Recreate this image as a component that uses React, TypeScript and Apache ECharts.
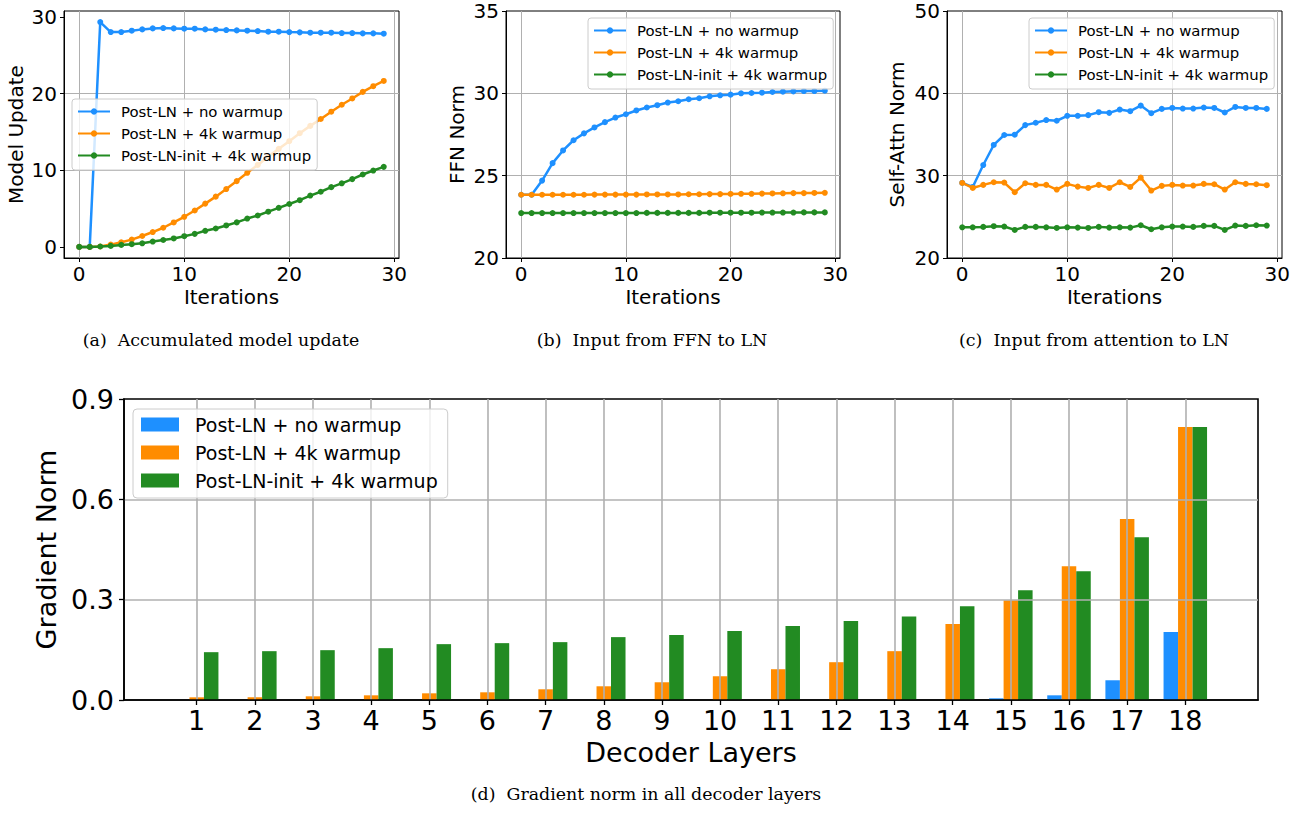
import React, { useEffect, useRef } from "react";
import * as echarts from "echarts";

// ---------- data ----------
const seriesNames = ["Post-LN + no warmup", "Post-LN + 4k warmup", "Post-LN-init + 4k warmup"];
const seriesColors = ["#1E90FF", "#FF8C00", "#228B22"];

const iterations = [0, 1, 2, 3, 4, 5, 6, 7, 8, 9, 10, 11, 12, 13, 14, 15, 16, 17, 18, 19, 20, 21, 22, 23, 24, 25, 26, 27, 28, 29];

// (a) accumulated model update
const updateNoWarmup = [0, 0, 29.35, 28.05, 28.05, 28.23, 28.4, 28.53, 28.57, 28.53, 28.49, 28.49, 28.4, 28.36, 28.31, 28.27, 28.23, 28.18, 28.1, 28.1, 28.05, 28.01, 27.97, 27.97, 27.97, 27.92, 27.92, 27.88, 27.88, 27.84];
const updateWarmup = [0, 0, 0.05, 0.3, 0.6, 0.95, 1.42, 1.94, 2.5, 3.19, 3.93, 4.75, 5.65, 6.56, 7.55, 8.59, 9.67, 10.7, 11.8, 12.8, 13.8, 14.85, 15.8, 16.7, 17.65, 18.56, 19.38, 20.24, 20.98, 21.67];
const updateInit = [0, 0, 0.05, 0.13, 0.26, 0.35, 0.47, 0.7, 0.9, 1.1, 1.4, 1.7, 2.1, 2.4, 2.8, 3.2, 3.7, 4.1, 4.6, 5.1, 5.6, 6.1, 6.7, 7.2, 7.8, 8.3, 8.85, 9.45, 9.97, 10.45];

// (b) FFN norm
const ffnNoWarmup = [23.84, 23.84, 24.7, 25.76, 26.53, 27.15, 27.57, 27.93, 28.25, 28.53, 28.73, 28.96, 29.14, 29.28, 29.44, 29.52, 29.64, 29.7, 29.82, 29.88, 29.92, 30.0, 30.02, 30.04, 30.08, 30.1, 30.12, 30.14, 30.14, 30.16];
const ffnWarmup = [23.84, 23.84, 23.84, 23.84, 23.84, 23.84, 23.84, 23.85, 23.85, 23.85, 23.85, 23.85, 23.86, 23.86, 23.86, 23.86, 23.87, 23.87, 23.88, 23.88, 23.89, 23.9, 23.9, 23.91, 23.92, 23.93, 23.94, 23.94, 23.95, 23.96];
const ffnInit = [22.73, 22.73, 22.73, 22.73, 22.73, 22.73, 22.73, 22.73, 22.73, 22.73, 22.73, 22.73, 22.74, 22.74, 22.74, 22.74, 22.74, 22.74, 22.75, 22.75, 22.75, 22.75, 22.75, 22.76, 22.76, 22.76, 22.76, 22.77, 22.77, 22.77];

// (c) self-attention norm
const attnNoWarmup = [29.12, 28.63, 31.29, 33.73, 34.94, 34.98, 36.14, 36.43, 36.75, 36.67, 37.27, 37.27, 37.35, 37.71, 37.63, 38.03, 37.83, 38.51, 37.59, 38.11, 38.23, 38.15, 38.15, 38.27, 38.23, 37.67, 38.35, 38.23, 38.23, 38.11];
const attnWarmup = [29.12, 28.51, 28.88, 29.2, 29.16, 27.99, 29.08, 28.88, 28.88, 28.31, 29.0, 28.67, 28.51, 28.88, 28.51, 29.2, 28.63, 29.76, 28.19, 28.76, 28.88, 28.8, 28.8, 29.0, 28.96, 28.31, 29.2, 29.0, 28.96, 28.84];
const attnInit = [23.73, 23.73, 23.78, 23.86, 23.82, 23.41, 23.78, 23.78, 23.73, 23.65, 23.73, 23.69, 23.65, 23.78, 23.69, 23.73, 23.69, 23.98, 23.49, 23.73, 23.82, 23.82, 23.78, 23.9, 23.9, 23.41, 23.94, 23.9, 23.98, 23.94];

// (d) gradient norm per decoder layer
const layers = [1, 2, 3, 4, 5, 6, 7, 8, 9, 10, 11, 12, 13, 14, 15, 16, 17, 18];
const gradNoWarmup = [0, 0, 0, 0, 0, 0, 0, 0, 0, 0, 0, 0, 0, 0, 0.005, 0.014, 0.059, 0.203];
const gradWarmup = [0.008, 0.008, 0.011, 0.014, 0.02, 0.023, 0.032, 0.041, 0.053, 0.071, 0.092, 0.113, 0.146, 0.227, 0.298, 0.4, 0.541, 0.816];
const gradInit = [0.143, 0.146, 0.149, 0.155, 0.167, 0.17, 0.173, 0.188, 0.194, 0.206, 0.221, 0.236, 0.25, 0.28, 0.328, 0.385, 0.487, 0.816];

const iterTicks = [0, 10, 20, 30];
const modelUpdateTicks = [0, 10, 20, 30];

const captions = [
  "(a)  Accumulated model update",
  "(b)  Input from FFN to LN",
  "(c)  Input from attention to LN",
  "(d)  Gradient norm in all decoder layers",
];

// ---------- option ----------
const SANS = "DejaVu Sans";
const SERIF = "DejaVu Serif";
const TOP_FONT = 20;
const BOTTOM_FONT = 27;

function buildOption() {
  const topGrids = [
    { left: 64, top: 11, width: 335, height: 247 },
    { left: 506, top: 11, width: 334, height: 247 },
    { left: 947, top: 11, width: 335, height: 247 },
  ];
  const grids: any[] = topGrids.map((g) => ({
    ...g,
    show: true,
    borderColor: "#000",
    borderWidth: 1,
    backgroundColor: "transparent",
    containLabel: false,
    outerBoundsMode: "none",
  }));
  grids.push({
    left: 124,
    top: 399,
    width: 1134,
    height: 301,
    show: true,
    borderColor: "#000",
    borderWidth: 1.6,
    backgroundColor: "transparent",
    containLabel: false,
    outerBoundsMode: "none",
  });

  const topX = (gi: number) => ({
    type: "value",
    gridIndex: gi,
    min: -1.45,
    max: 30.45,
    name: "Iterations",
    nameLocation: "middle",
    nameGap: 29,
    nameTextStyle: { fontSize: TOP_FONT, fontFamily: SANS, color: "#000" },
    axisLine: { show: true, onZero: false, lineStyle: { color: "#000", width: 1 } },
    axisTick: { show: true, customValues: iterTicks, length: 4, lineStyle: { color: "#000" } },
    axisLabel: { customValues: iterTicks, fontSize: TOP_FONT, fontFamily: SANS, color: "#000", margin: 6 },
    splitLine: { show: true, lineStyle: { color: "#b0b0b0", width: 1 } },
  });

  const yCommon = (gi: number, name: string, gap: number) => ({
    type: "value",
    gridIndex: gi,
    name,
    nameLocation: "middle",
    nameRotate: 90,
    nameGap: gap,
    nameTextStyle: { fontSize: TOP_FONT, fontFamily: SANS, color: "#000" },
    axisLine: { show: true, onZero: false, lineStyle: { color: "#000", width: 1 } },
    axisTick: { show: true, length: 4, lineStyle: { color: "#000" } },
    axisLabel: { fontSize: TOP_FONT, lineHeight: 16, fontFamily: SANS, color: "#000", margin: 7 },
    splitLine: { show: true, showMinLine: false, showMaxLine: false, lineStyle: { color: "#b0b0b0", width: 1 } },
  });

  const yA: any = yCommon(0, "Model Update", 38);
  yA.min = -1.45;
  yA.max = 30.8;
  yA.axisTick = { ...yA.axisTick, customValues: modelUpdateTicks };
  yA.axisLabel = { ...yA.axisLabel, customValues: modelUpdateTicks };
  const yB: any = yCommon(1, "FFN Norm", 39);
  yB.min = 20;
  yB.max = 35;
  yB.interval = 5;
  const yC: any = yCommon(2, "Self-Attn Norm", 40);
  yC.min = 20;
  yC.max = 50;
  yC.interval = 10;

  const xD = {
    type: "value",
    gridIndex: 3,
    min: -0.25,
    max: 19.25,
    z: 3,
    name: "Decoder Layers",
    nameLocation: "middle",
    nameGap: 39,
    nameTextStyle: { fontSize: BOTTOM_FONT, fontFamily: SANS, color: "#000" },
    axisLine: { show: true, onZero: false, lineStyle: { color: "#000", width: 1.6 } },
    axisTick: { show: true, customValues: layers, length: 5, lineStyle: { color: "#000", width: 1.3 } },
    axisLabel: { customValues: layers, fontSize: BOTTOM_FONT, fontFamily: SANS, color: "#000", margin: 7 },
    splitLine: { show: true, lineStyle: { color: "#b0b0b0", width: 1.6 } },
  };
  const yD = {
    type: "value",
    gridIndex: 3,
    min: 0,
    max: 0.9,
    interval: 0.3,
    z: 3,
    name: "Gradient Norm",
    nameLocation: "middle",
    nameRotate: 90,
    nameGap: 61,
    nameTextStyle: { fontSize: BOTTOM_FONT, fontFamily: SANS, color: "#000" },
    axisLine: { show: true, onZero: false, lineStyle: { color: "#000", width: 1.6 } },
    axisTick: { show: true, length: 5, lineStyle: { color: "#000", width: 1.3 } },
    axisLabel: {
      fontSize: BOTTOM_FONT,
      fontFamily: SANS,
      color: "#000",
      margin: 10,
      formatter: (v: number) => v.toFixed(1),
    },
    splitLine: { show: true, showMinLine: false, showMaxLine: false, lineStyle: { color: "#b0b0b0", width: 1.6 } },
  };

  const lineSeries = (gi: number, values: number[][]) =>
    values.map((vals, k) => ({
      type: "line",
      name: seriesNames[k],
      xAxisIndex: gi,
      yAxisIndex: gi,
      data: iterations.map((it, i) => [it, vals[i]]),
      symbol: "circle",
      symbolSize: 6,
      showSymbol: true,
      lineStyle: { color: seriesColors[k], width: 2.5 },
      itemStyle: { color: seriesColors[k] },
      z: 2 + k,
    }));

  const barValues = [gradNoWarmup, gradWarmup, gradInit];
  const barSeries = barValues.map((vals, k) => ({
    type: "bar",
    name: seriesNames[k],
    xAxisIndex: 3,
    yAxisIndex: 3,
    data: layers.map((l, i) => [l, vals[i]]),
    barWidth: 14.5,
    barGap: "0%",
    itemStyle: { color: seriesColors[k] },
    z: 2,
  }));

  const topLegend = (left: number, top: number) => ({
    show: true,
    orient: "vertical",
    left,
    top,
    data: seriesNames,
    itemWidth: 32,
    itemHeight: 8,
    itemGap: 7,
    padding: [5, 6, 7, 5],
    backgroundColor: "rgba(255,255,255,0.8)",
    borderColor: "#cccccc",
    borderWidth: 1,
    borderRadius: 3,
    selectedMode: false,
    textStyle: { fontSize: 14.9, fontFamily: SANS, color: "#000", padding: [0, 0, 0, 6] },
    z: 10,
  });

  const bottomLegend = {
    show: true,
    orient: "vertical",
    left: 133,
    top: 409,
    data: seriesNames,
    icon: "rect",
    itemWidth: 38,
    itemHeight: 14,
    itemGap: 9,
    padding: [6, 10, 8, 8],
    backgroundColor: "rgba(255,255,255,0.8)",
    borderColor: "#cccccc",
    borderWidth: 1,
    borderRadius: 4,
    selectedMode: false,
    textStyle: { fontSize: 19, fontFamily: SANS, color: "#000", padding: [0, 0, 0, 11] },
    z: 10,
  };

  const captionPos = [
    [221, 340],
    [652, 340],
    [1094, 340],
    [646, 794],
  ];

  return {
    animation: false,
    backgroundColor: "#ffffff",
    grid: grids,
    xAxis: [topX(0), topX(1), topX(2), xD],
    yAxis: [yA, yB, yC, yD],
    legend: [topLegend(72, 99), topLegend(588, 18), topLegend(1029, 18), bottomLegend],
    series: [
      ...lineSeries(0, [updateNoWarmup, updateWarmup, updateInit]),
      ...lineSeries(1, [ffnNoWarmup, ffnWarmup, ffnInit]),
      ...lineSeries(2, [attnNoWarmup, attnWarmup, attnInit]),
      ...barSeries,
    ],
    graphic: captions.map((t, i) => ({
      type: "text",
      x: captionPos[i][0],
      y: captionPos[i][1],
      style: {
        text: t,
        fontSize: 17.4,
        fontFamily: SERIF,
        fill: "#000",
        align: "center",
        verticalAlign: "middle",
      },
    })),
  };
}

export default function App() {
  const ref = useRef<HTMLDivElement>(null);
  useEffect(() => {
    if (!ref.current) return;
    const chart = echarts.init(ref.current, null, { renderer: "svg" });
    chart.setOption(buildOption() as any);
    return () => {
      chart.dispose();
    };
  }, []);
  return (
    <div
      ref={ref}
      style={{ position: "fixed", left: 0, top: 0, width: 1312, height: 818, background: "#fff" }}
    />
  );
}
